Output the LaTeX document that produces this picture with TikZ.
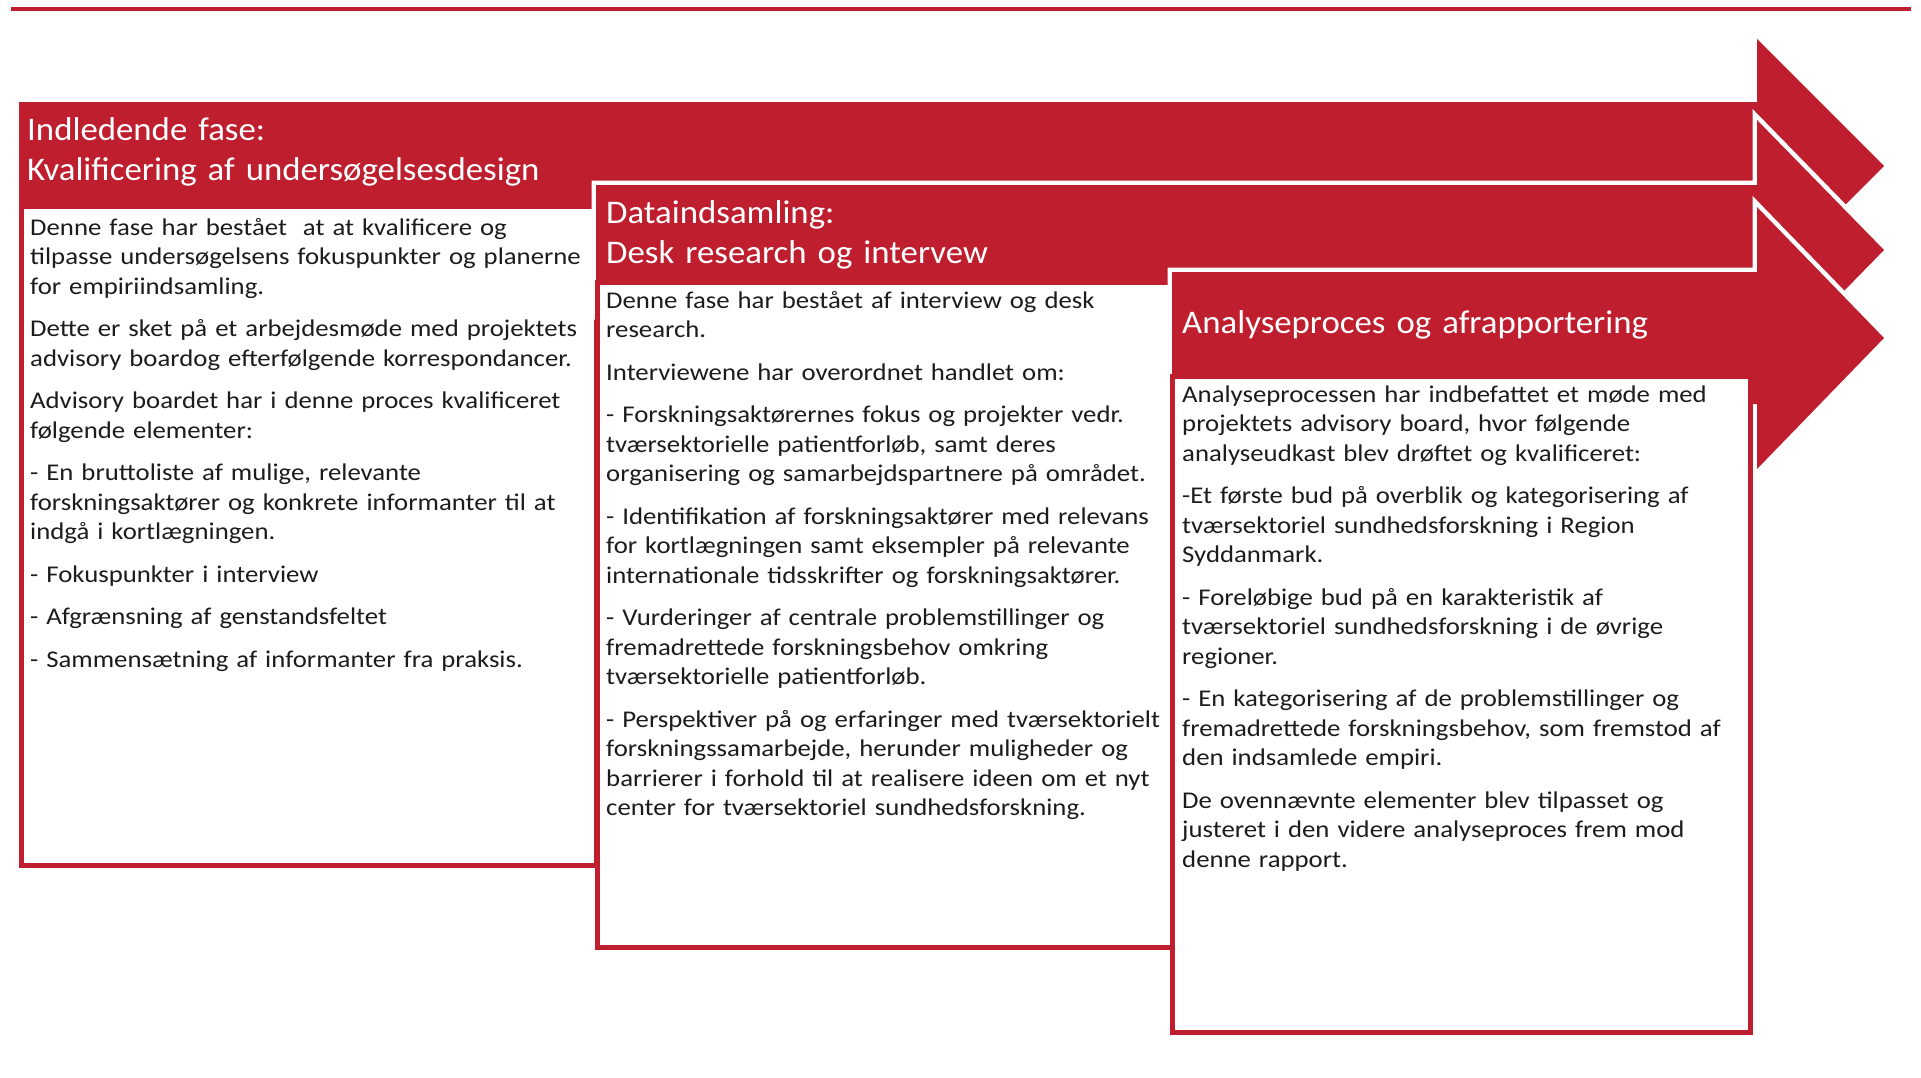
\documentclass[tikz,border=0pt]{standalone}
\usepackage{fontspec}
\setmainfont{Carlito}
\newfontfamily\headfont{Carlito}[FakeStretch=1.055]
\newfontfamily\panelfont{Carlito}[FakeStretch=1.115]
\definecolor{phasered}{RGB}{190,30,45}
\definecolor{bodytext}{RGB}{28,28,28}
\begin{document}
\begin{tikzpicture}[x=1pt,y=-1pt,
  phasearrow/.style={fill=phasered},
  cutout/.style={preaction={draw=white,line width=9pt,line join=miter}},
  phasebox/.style={draw=phasered,line width=5pt,fill=white},
  phasetitle/.style={anchor=base west,inner sep=0pt,text=white,align=left,
    text width=600pt,font=\headfont\fontsize{33}{40}\selectfont},
  phasetext/.style={anchor=base west,inner sep=0pt,text=bodytext,align=left,
    text width=640pt,font=\panelfont\fontsize{24}{29.5}\selectfont},
]
\useasboundingbox (0,0) rectangle (1921,1077);

% rule along the top
\draw[phasered,line width=4pt] (11,8.5) -- (1911,8.5);

% phase 1: arrow and text panel
\fill[phasearrow] (19,102) -- (1757,102) -- (1757,39) -- (1884,166)
  -- (1757,293) -- (1757,230) -- (19,230) -- cycle;
\filldraw[phasebox] (21,206) rectangle (596,865);

% phase 2
\fill[phasearrow,cutout] (596,185) -- (1757,185) -- (1757,120) -- (1884,250)
  -- (1757,380) -- (1757,315) -- (596,315) -- cycle;
\filldraw[phasebox] (597,282) rectangle (1172,947);

% phase 3
\fill[phasearrow,cutout] (1172,272) -- (1757,272) -- (1757,207) -- (1884,338)
  -- (1757,469) -- (1757,404) -- (1172,404) -- cycle;
\filldraw[phasebox] (1172,376) rectangle (1750,1032);

% headings
\node[phasetitle] (t1) at (27,140) {Indledende fase:\\Kvalificering af undersøgelsesdesign};
\node[phasetitle] (t2) at (606,223) {Dataindsamling:\\Desk research og intervew};
\node[phasetitle] (t3) at (1182,333) {Analyseproces og afrapportering};

% panel texts
\node[phasetext] (b1) at (30,235) {%
Denne fase har bestået\ \ at at kvalificere og\\
tilpasse undersøgelsens fokuspunkter og planerne\\
for empiriindsamling.\\[13pt]
Dette er sket på et arbejdesmøde med projektets\\
advisory boardog efterfølgende korrespondancer.\\[13pt]
Advisory boardet har i denne proces kvalificeret\\
følgende elementer:\\[13pt]
- En bruttoliste af mulige, relevante\\
forskningsaktører og konkrete informanter til at\\
indgå i kortlægningen.\\[13pt]
- Fokuspunkter i interview\\[13pt]
- Afgrænsning af genstandsfeltet\\[13pt]
- Sammensætning af informanter fra praksis.};

\node[phasetext] (b2) at (606,308) {%
Denne fase har bestået af interview og desk\\
research.\\[13pt]
Interviewene har overordnet handlet om:\\[13pt]
- Forskningsaktørernes fokus og projekter vedr.\\
tværsektorielle patientforløb, samt deres\\
organisering og samarbejdspartnere på området.\\[13pt]
- Identifikation af forskningsaktører med relevans\\
for kortlægningen samt eksempler på relevante\\
internationale tidsskrifter og forskningsaktører.\\[13pt]
- Vurderinger af centrale problemstillinger og\\
fremadrettede forskningsbehov omkring\\
tværsektorielle patientforløb.\\[13pt]
- Perspektiver på og erfaringer med tværsektorielt\\
forskningssamarbejde, herunder muligheder og\\
barrierer i forhold til at realisere ideen om et nyt\\
center for tværsektoriel sundhedsforskning.};

\node[phasetext] (b3) at (1182,402) {%
Analyseprocessen har indbefattet et møde med\\
projektets advisory board, hvor følgende\\
analyseudkast blev drøftet og kvalificeret:\\[13pt]
-Et første bud på overblik og kategorisering af\\
tværsektoriel sundhedsforskning i Region\\
Syddanmark.\\[13pt]
- Foreløbige bud på en karakteristik af\\
tværsektoriel sundhedsforskning i de øvrige\\
regioner.\\[13pt]
- En kategorisering af de problemstillinger og\\
fremadrettede forskningsbehov, som fremstod af\\
den indsamlede empiri.\\[13pt]
De ovennævnte elementer blev tilpasset og\\
justeret i den videre analyseproces frem mod\\
denne rapport.};
\end{tikzpicture}
\end{document}
